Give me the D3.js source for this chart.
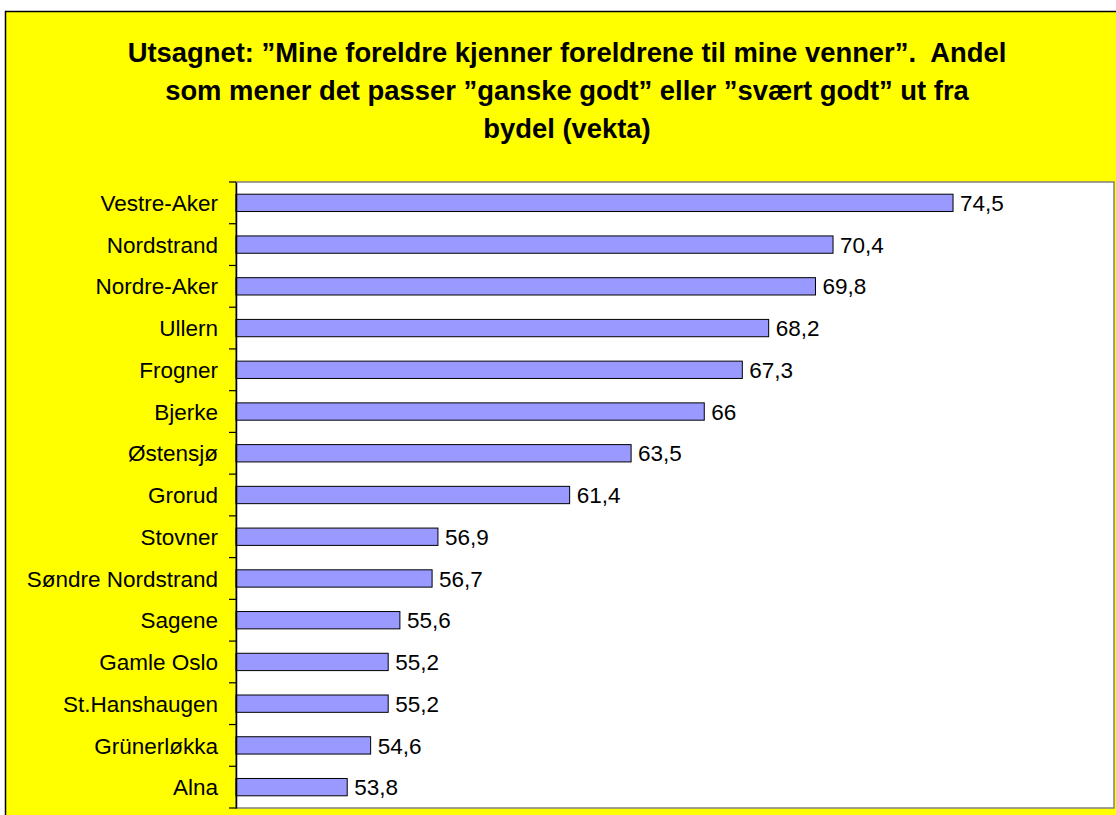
<!DOCTYPE html>
<html>
<head>
<meta charset="utf-8">
<script src="https://cdn.jsdelivr.net/npm/d3@7"></script>
<style>
  html, body { margin: 0; padding: 0; background: #ffffff; }
  svg { display: block; }
  text { font-family: "Liberation Sans", Arial, sans-serif; }
  .title { white-space: pre; }
</style>
</head>
<body>
<svg id="chart" width="1116" height="815"></svg>
<script>
const titleLines = [
  "Utsagnet: \u201dMine foreldre kjenner foreldrene til mine venner\u201d.  Andel",
  "som mener det passer \u201dganske godt\u201d eller \u201dsvært godt\u201d ut fra",
  "bydel (vekta)"
];
const categories = [
  "Vestre-Aker", "Nordstrand", "Nordre-Aker", "Ullern", "Frogner", "Bjerke",
  "Østensjø", "Grorud", "Stovner", "Søndre Nordstrand", "Sagene",
  "Gamle Oslo", "St.Hanshaugen", "Grünerløkka", "Alna"
];
const values = [74.5, 70.4, 69.8, 68.2, 67.3, 66, 63.5, 61.4, 56.9, 56.7, 55.6, 55.2, 55.2, 54.6, 53.8];
const xDomain = [50, 80];

const svg = d3.select("#chart");

// outer chart frame (yellow)
svg.append("rect")
  .attr("x", 5.5).attr("y", 11.5)
  .attr("width", 1300).attr("height", 1000)
  .attr("fill", "#FFFF00")
  .attr("stroke", "#000").attr("stroke-width", 1.5);

// title
svg.append("g").selectAll("text")
  .data(titleLines)
  .join("text")
  .attr("class", "title")
  .attr("xml:space", "preserve")
  .attr("x", 567)
  .attr("y", (d, i) => 62 + i * 38)
  .attr("text-anchor", "middle")
  .attr("font-size", "27.4px")
  .attr("font-weight", "bold")
  .attr("fill", "#000")
  .text(d => d);

const plot = { left: 236, right: 1114, top: 182, bottom: 808 };

const x = d3.scaleLinear().domain(xDomain).range([plot.left, plot.right]);
const y = d3.scaleBand().domain(categories)
  .range([plot.top, plot.bottom])
  .paddingInner(0.585).paddingOuter(0.2925);

// plot area
svg.append("rect")
  .attr("x", plot.left).attr("y", plot.top)
  .attr("width", plot.right - plot.left).attr("height", plot.bottom - plot.top)
  .attr("fill", "#fff")
  .attr("stroke", "#808080").attr("stroke-width", 1.5);

// bars
svg.append("g").selectAll("rect")
  .data(values)
  .join("rect")
  .attr("x", x(xDomain[0]))
  .attr("y", (d, i) => y(categories[i]))
  .attr("width", d => x(d) - x(xDomain[0]))
  .attr("height", y.bandwidth())
  .attr("fill", "#9999FF")
  .attr("stroke", "#000").attr("stroke-width", 1);

// value labels
svg.append("g").selectAll("text")
  .data(values)
  .join("text")
  .attr("x", d => x(d) + 7)
  .attr("y", (d, i) => y(categories[i]) + y.bandwidth() / 2)
  .attr("dy", "0.36em")
  .attr("font-size", "22.5px")
  .attr("fill", "#000")
  .text(d => String(d).replace(".", ","));

// category axis
const axisG = svg.append("g")
  .attr("transform", `translate(${plot.left},0)`)
  .call(d3.axisLeft(y).tickSize(0).tickPadding(18));
axisG.select(".domain").attr("stroke", "#000").attr("stroke-width", 1.5);
axisG.selectAll(".tick text")
  .attr("font-size", "22.5px")
  .attr("font-family", "'Liberation Sans', Arial, sans-serif")
  .attr("fill", "#000")
  .attr("dy", "0.36em");

// tick marks at band boundaries
const boundaries = categories.map(c => y(c) - y.step() * y.paddingInner() / 2)
  .concat([plot.bottom]);
svg.append("g").selectAll("line")
  .data(boundaries)
  .join("line")
  .attr("x1", plot.left - 7).attr("x2", plot.left)
  .attr("y1", d => d).attr("y2", d => d)
  .attr("stroke", "#000").attr("stroke-width", 1.2);
</script>
</body>
</html>
